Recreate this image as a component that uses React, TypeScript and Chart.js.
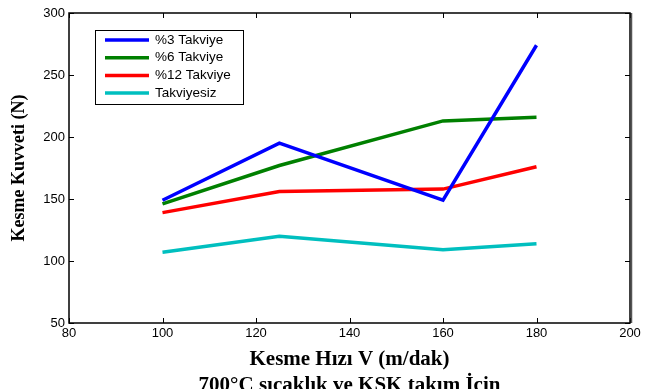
import React, { useEffect, useRef } from "react";
import { Chart, registerables } from "chart.js";

Chart.register(...registerables);

const speeds = [100, 125, 160, 180];
const takviye3 = [149, 195, 149, 274];
const takviye6 = [146, 177, 213, 216];
const takviye12 = [139, 156, 158, 176];
const takviyesiz = [107, 120, 109, 114];

const seriesLabels = ["%3 Takviye", "%6 Takviye", "%12 Takviye", "Takviyesiz"];
const seriesColors = ["#0000FF", "#008000", "#FF0000", "#00BFBF"];

const xTitle = "Kesme Hızı V (m/dak)";
const subTitle = "700°C sıcaklık ve KSK takım İçin";
const yTitle = "Kesme Kuvveti (N)";

const boxPlugin = {
  id: "matlabBox",
  afterDraw(chart: any) {
    const { ctx, chartArea } = chart;
    const { left, right, top, bottom } = chartArea;
    const xs = chart.scales.x;
    const ys = chart.scales.y;
    ctx.save();
    ctx.strokeStyle = "#000";
    ctx.lineWidth = 1;
    ctx.beginPath();
    const tl = 5;
    xs.ticks.forEach((t: any) => {
      const px = Math.round(xs.getPixelForValue(t.value)) + 0.5;
      ctx.moveTo(px, bottom);
      ctx.lineTo(px, bottom - tl);
      ctx.moveTo(px, top);
      ctx.lineTo(px, top + tl);
    });
    ys.ticks.forEach((t: any) => {
      const py = Math.round(ys.getPixelForValue(t.value)) + 0.5;
      ctx.moveTo(left, py);
      ctx.lineTo(left + tl, py);
      ctx.moveTo(right, py);
      ctx.lineTo(right - tl, py);
    });
    ctx.stroke();
    ctx.lineWidth = 1.5;
    ctx.strokeRect(left, top, right - left, bottom - top);
    ctx.strokeStyle = "#555";
    ctx.lineWidth = 1.5;
    ctx.beginPath();
    ctx.moveTo(right + 1.5, top);
    ctx.lineTo(right + 1.5, bottom);
    ctx.stroke();
    ctx.restore();

    // legend
    const bx = left + 26;
    const by = top + 17;
    const bw = 148;
    const bh = 74;
    ctx.save();
    ctx.fillStyle = "#fff";
    ctx.fillRect(bx, by, bw, bh);
    ctx.strokeStyle = "#000";
    ctx.lineWidth = 1;
    ctx.strokeRect(bx + 0.5, by + 0.5, bw, bh);
    ctx.font = "13.5px 'Liberation Sans', Arial, sans-serif";
    ctx.textBaseline = "middle";
    chart.data.datasets.forEach((ds: any, i: number) => {
      const ry = by + 10 + i * 17.7;
      ctx.strokeStyle = ds.borderColor;
      ctx.lineWidth = 3.5;
      ctx.beginPath();
      ctx.moveTo(bx + 10, ry);
      ctx.lineTo(bx + 54, ry);
      ctx.stroke();
      ctx.fillStyle = "#000";
      ctx.fillText(ds.label, bx + 60, ry);
    });
    ctx.restore();
  },
};

export default function App() {
  const ref = useRef<HTMLCanvasElement>(null);
  useEffect(() => {
    document.body.style.margin = "0";
    const seriesValues = [takviye3, takviye6, takviye12, takviyesiz];
    const chart = new Chart(ref.current!, {
      type: "line",
      data: {
        datasets: seriesValues.map((vals, i) => ({
          label: seriesLabels[i],
          data: speeds.map((s, j) => ({ x: s, y: vals[j] })),
          borderColor: seriesColors[i],
          backgroundColor: seriesColors[i],
          borderWidth: 3.5,
          pointRadius: 0,
          tension: 0,
        })),
      },
      options: {
        responsive: false,
        animation: false,
        layout: { padding: { top: 13, right: 26, left: 0, bottom: 0 } },
        plugins: {
          legend: { display: false },
          tooltip: { enabled: false },
        },
        scales: {
          x: {
            type: "linear",
            min: 80,
            max: 200,
            ticks: {
              stepSize: 20,
              color: "#000",
              padding: 3,
              font: { family: "'Liberation Sans', Arial, sans-serif", size: 13 },
            },
            grid: { display: false, drawTicks: false },
            border: { display: false },
            title: {
              display: true,
              text: [xTitle, subTitle],
              color: "#000",
              font: { family: "'Liberation Serif', 'Times New Roman', serif", size: 21, weight: "bold", lineHeight: 1.24 },
              padding: { top: 0, bottom: -9.5 },
            },
            afterFit: (s: any) => {
              s.height = 66;
            },
          },
          y: {
            min: 50,
            max: 300,
            ticks: {
              stepSize: 50,
              color: "#000",
              padding: 4,
              font: { family: "'Liberation Sans', Arial, sans-serif", size: 13 },
            },
            grid: { display: false, drawTicks: false },
            border: { display: false },
            title: {
              display: true,
              text: yTitle,
              color: "#000",
              font: { family: "'Liberation Serif', 'Times New Roman', serif", size: 18, weight: "bold" },
              padding: { top: 9, bottom: 0 },
            },
            afterFit: (s: any) => {
              s.width = 69;
            },
          },
        },
      },
      plugins: [boxPlugin],
    });
    return () => chart.destroy();
  }, []);
  return <canvas ref={ref} width={656} height={389} style={{ display: "block" }} />;
}
